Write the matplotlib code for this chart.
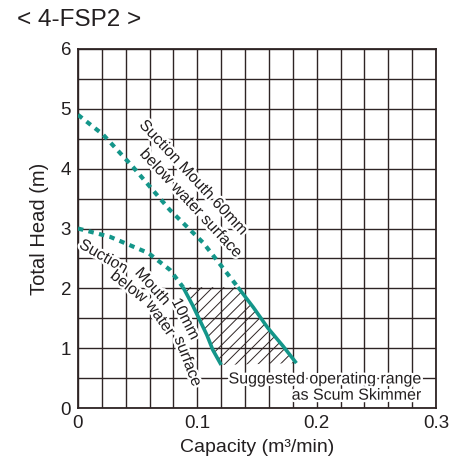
import matplotlib
matplotlib.use("Agg")
import matplotlib.pyplot as plt
import matplotlib.patheffects as pe
import numpy as np

plt.rcParams['font.family'] = ['Liberation Sans', 'DejaVu Sans']
plt.rcParams['hatch.linewidth'] = 0.7

# pump curves (capacity m3/min, head m)
q60_dash = [0.0, 0.021, 0.046, 0.077, 0.105, 0.134]
h60_dash = [4.90, 4.57, 4.03, 3.31, 2.76, 2.02]
q60_solid = [0.134, 0.147, 0.159, 0.172, 0.183]
h60_solid = [2.02, 1.68, 1.34, 1.03, 0.75]

q10_dash = [0.0, 0.027, 0.059, 0.077, 0.088]
h10_dash = [3.00, 2.86, 2.59, 2.31, 2.02]
q10_solid = [0.088, 0.096, 0.102, 0.108, 0.113, 0.120]
h10_solid = [2.02, 1.72, 1.47, 1.22, 0.97, 0.72]

# the 10mm label bends along its curve, so it is set word by word
words10 = ["Suction", "Mouth", "10mm", "below", "water", "surface"]
words10_x = [0.0215, 0.0625, 0.0900, 0.0425, 0.0690, 0.0920]
words10_y = [2.53, 2.03, 1.49, 2.03, 1.50, 0.78]
words10_rot = [-30, -48, -63, -38, -55, -69]

teal = "#14968a"
dark = "#2e2424"
txt = "#231f20"

fig = plt.figure(figsize=(4.5, 4.57), dpi=100)
ax = fig.add_axes([0.1733, 0.1072, 0.7956, 0.7856])

# hatched suggested range between the two solid curves
poly_x = q10_solid + q60_solid[::-1]
poly_y = h10_solid + h60_solid[::-1]
ax.fill(poly_x, poly_y, facecolor="none", edgecolor=dark, hatch="///", linewidth=0, zorder=2)

ax.plot(q60_dash, h60_dash, color=teal, lw=3, ls=(0, (1.3, 1.3)), zorder=4)
ax.plot(q60_solid, h60_solid, color=teal, lw=2.6, zorder=4, solid_capstyle="butt")
ax.plot(q10_dash, h10_dash, color=teal, lw=3, ls=(0, (1.3, 1.3)), zorder=4)
ax.plot(q10_solid, h10_solid, color=teal, lw=2.6, zorder=4, solid_capstyle="butt")

ax.set_xlim(0, 0.3)
ax.set_ylim(0, 6)
ax.set_xticks(np.arange(0, 0.301, 0.02))
ax.set_yticks(np.arange(0, 6.01, 0.5))
ax.grid(True, color=dark, lw=1.0, zorder=1)
ax.set_axisbelow(True)
ax.set_xticklabels(["0" if i == 0 else ("0.%d" % (i // 5) if i % 5 == 0 else "") for i in range(16)])
ax.set_yticklabels([str(int(v)) if v == int(v) else "" for v in np.arange(0, 6.01, 0.5)])
ax.tick_params(length=0, labelsize=13.5, colors=txt, pad=5)
for s in ax.spines.values():
    s.set_color(dark)
    s.set_linewidth(1.3)

ax.set_xlabel("Capacity (m³/min)", fontsize=14, color=txt, labelpad=5)
ax.set_ylabel("Total Head (m)", fontsize=14.5, color=txt, labelpad=8)

stroke = [pe.withStroke(linewidth=3.5, foreground="white")]
ax.text(0.0968, 3.85, "Suction Mouth 60mm", rotation=-47,
        ha="center", va="center", fontsize=11.5, color=txt,
        path_effects=stroke, zorder=5, rotation_mode="anchor")
ax.text(0.0947, 3.42, "below water surface", rotation=-47,
        ha="center", va="center", fontsize=11.5, color=txt,
        path_effects=stroke, zorder=5, rotation_mode="anchor")
for w, x, y, r in zip(words10, words10_x, words10_y, words10_rot):
    ax.text(x, y, w, rotation=r, ha="center", va="center", fontsize=11.5,
            color=txt, path_effects=stroke, zorder=5, rotation_mode="anchor")
ax.text(0.288, 0.35, "Suggested operating range\nas Scum Skimmer",
        ha="right", va="center", fontsize=11.5, color=txt,
        linespacing=1.1, path_effects=stroke, zorder=5)

fig.text(0.038, 0.956, "< 4-FSP2 >", fontsize=17.5, color=txt, va="center", ha="left")

fig.savefig("out.png", dpi=100)
